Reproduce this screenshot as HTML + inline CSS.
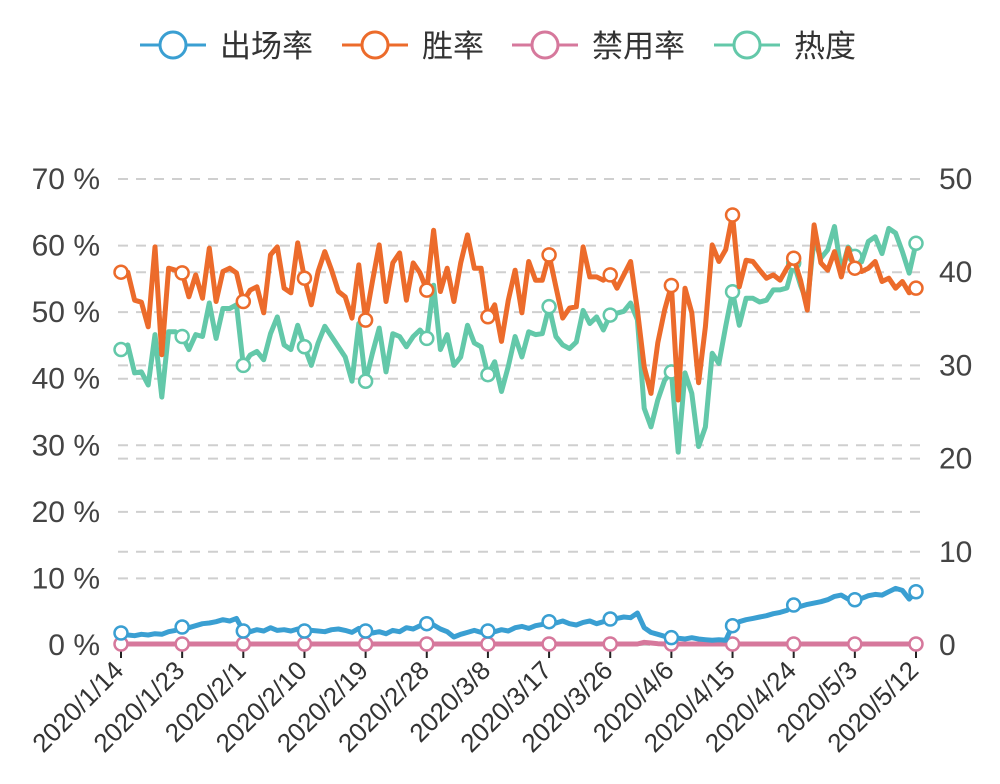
<!DOCTYPE html>
<html><head><meta charset="utf-8"><style>
html,body{margin:0;padding:0;background:#fff;width:1000px;height:784px;overflow:hidden}
svg{display:block;font-family:"Liberation Sans","Noto Sans CJK SC",sans-serif}
</style></head><body>
<svg id="chart" width="1000" height="784"></svg>
<script>
const categories=["2020/1/14","2020/1/23","2020/2/1","2020/2/10","2020/2/19","2020/2/28","2020/3/8","2020/3/17","2020/3/26","2020/4/6","2020/4/15","2020/4/24","2020/5/3","2020/5/12"];
const pointCount=118;
const leftTicks=[0,10,20,30,40,50,60,70];
const rightTicks=[0,10,20,30,40,50];
const winRate=[56,56,51.8,51.5,47.8,59.8,43.6,56.6,56.3,55.9,52.3,55.6,52.1,59.6,51.6,56.1,56.6,55.9,51.6,53.3,53.8,49.9,58.6,59.8,53.6,52.9,60.4,55.1,51.1,56.1,59.1,56.3,53.1,52.3,49.1,57.1,48.8,54.6,60.1,51.6,57.4,58.9,51.8,57.4,55.9,53.3,62.3,53.1,56.6,51.6,57.4,61.6,56.6,56.6,49.3,51.1,45.6,51.8,56.3,49.9,57.6,54.8,54.8,58.6,53.8,49.1,50.6,50.8,59.8,55.3,55.3,54.8,55.6,53.6,55.6,57.6,50.3,41.8,37.8,45.4,50.3,54,36.8,53.6,49.9,39.4,47.8,60.1,57.6,59.4,64.6,53.8,57.8,57.6,56.3,55.1,55.6,54.8,56.6,58.1,54.8,50.3,63.1,57.4,56.3,59.1,55.3,59.6,56.6,56.1,56.6,57.6,54.6,55.1,53.6,54.6,52.9,53.6];
const heat=[31.7,32.2,29.2,29.3,27.9,33.3,26.6,33.6,33.6,33.1,31.7,33.3,33.1,36.7,32.9,36.1,36.1,36.5,30,31.1,31.5,30.6,33.4,35.2,32.2,31.7,34.3,32,30,32.4,34.2,33.1,32,30.9,28.3,34.5,28.3,31.3,34,29.3,33.4,33.1,32,33.1,33.8,32.9,38.6,31.7,33.3,30,30.9,34.3,32.4,32,29,30.4,27.2,29.9,33.1,30.9,33.6,33.3,33.4,36.3,33.1,32.2,31.8,32.5,35.9,34.5,35.2,33.8,35.4,35.6,35.8,36.7,34.9,25.4,23.4,26.3,28.4,29.3,20.7,29.2,27,21.3,23.4,31.3,30.2,34.2,37.9,34.3,37.2,37.2,36.8,37,38.1,38.1,38.3,41,38.6,36.7,43.6,41.5,42.4,44.9,40.1,42.7,41.7,41.1,43.3,43.8,42,44.7,44.2,42.2,39.9,43.1];
const pickRate=[1.8,1.5,1.4,1.6,1.5,1.7,1.6,2,2.2,2.7,2.6,2.9,3.2,3.3,3.5,3.8,3.6,4,2.1,2,2.3,2.1,2.6,2.2,2.3,2.1,2.4,2.1,2.2,2.1,2,2.3,2.4,2.2,1.9,2.5,2.1,1.8,2,1.7,2.2,2,2.6,2.4,2.9,3.2,3,2.4,2,1.2,1.6,1.9,2.2,1.9,2.1,2,2.3,2.1,2.6,2.8,2.5,2.9,3.1,3.5,3.3,3.6,3.2,3,3.4,3.6,3.2,3.5,3.9,4,4.2,4.1,4.8,2.6,1.9,1.6,1.3,1.1,1,0.9,1.1,0.9,0.8,0.7,0.8,0.7,2.9,3.5,3.8,4,4.2,4.4,4.7,4.9,5.2,6,5.8,6.1,6.3,6.5,6.8,7.3,7.5,6.9,6.8,7,7.4,7.6,7.5,8,8.5,8.2,6.9,8];
const banRate=Array.from({length:pointCount},(_,i)=>0.15);
banRate[77]=0.4;banRate[78]=0.3;banRate[79]=0.2;

const X0=121,X1=916,YB=645,YT=179;
const xs=i=>X0+(X1-X0)*i/(pointCount-1);
const yL=v=>YB-(YB-YT)*v/70;
const yR=v=>YB-(YB-YT)*v/50;
const NS="http://www.w3.org/2000/svg";
const svg=document.getElementById('chart');
function mk(tag,attrs,parent){const e=document.createElementNS(NS,tag);for(const k in attrs)e.setAttribute(k,attrs[k]);(parent||svg).appendChild(e);return e;}

const grid=mk('g',{});


leftTicks.forEach(v=>{
  const l=mk('line',{x1:118,x2:920,y1:yL(v),y2:yL(v),stroke:'#cfcfcf','stroke-width':2,'stroke-dasharray':'10 8'},grid);
  
  
  const t=mk('text',{x:100,y:yL(v)+10,'text-anchor':'end','font-size':30,fill:'#444'});
  t.textContent=v+' %';
  
  
});
rightTicks.forEach(v=>{
  if(v>0){const l=mk('line',{x1:118,x2:920,y1:yR(v),y2:yR(v),stroke:'#cfcfcf','stroke-width':2,'stroke-dasharray':'10 8'},grid);
  
  }
  const t=mk('text',{x:939,y:yR(v)+10,'text-anchor':'start','font-size':30,fill:'#444'});
  t.textContent=v;
  
  
});
categories.forEach((c,k)=>{
  const x=xs(k*9);
  const tk=mk('line',{x1:x,x2:x,y1:650,y2:658,stroke:'#222','stroke-width':2});
  
  
  const t=mk('text',{x:x+4,y:672,'text-anchor':'end','font-size':26,fill:'#333',transform:`rotate(-45 ${x+4} 672)`});
  t.textContent=c;
  
  
});

function series(vals,yf,color,name){
  const g=mk('g',{});
  
  
  const d=vals.map((v,i)=>(i?'L':'M')+xs(i).toFixed(1)+' '+yf(v).toFixed(1)).join(' ');
  const p=mk('path',{d:d,fill:'none',stroke:color,'stroke-width':5,'stroke-linejoin':'round'},g);
  
  
  vals.forEach((v,i)=>{if(i%9===0||i===vals.length-1){
    const c=mk('circle',{cx:xs(i),cy:yf(v),r:6.5,fill:'#fff',stroke:color,'stroke-width':2.5},g);
    
    
  }});
}
series(banRate,yL,'#d6789c','ban-rate');
series(pickRate,yL,'#3a9fd2','pick-rate');
series(heat,yR,'#63c8a9','heat');
series(winRate,yL,'#ec6b2b','win-rate');

const legend=[["出场率",'#3a9fd2',140],["胜率",'#ec6b2b',342],["禁用率",'#d6789c',512],["热度",'#63c8a9',714]];
legend.forEach(([n,c,x])=>{
  const g=mk('g',{});
  
  
  mk('line',{x1:x,x2:x+66,y1:45,y2:45,stroke:c,'stroke-width':3},g);
  mk('circle',{cx:x+33,cy:45,r:13,fill:'#fff',stroke:c,'stroke-width':3},g);
  const t=mk('text',{x:x+80,y:57,'font-size':31,fill:'#333'},g);
  t.textContent=n;
});
</script>
</body></html>
